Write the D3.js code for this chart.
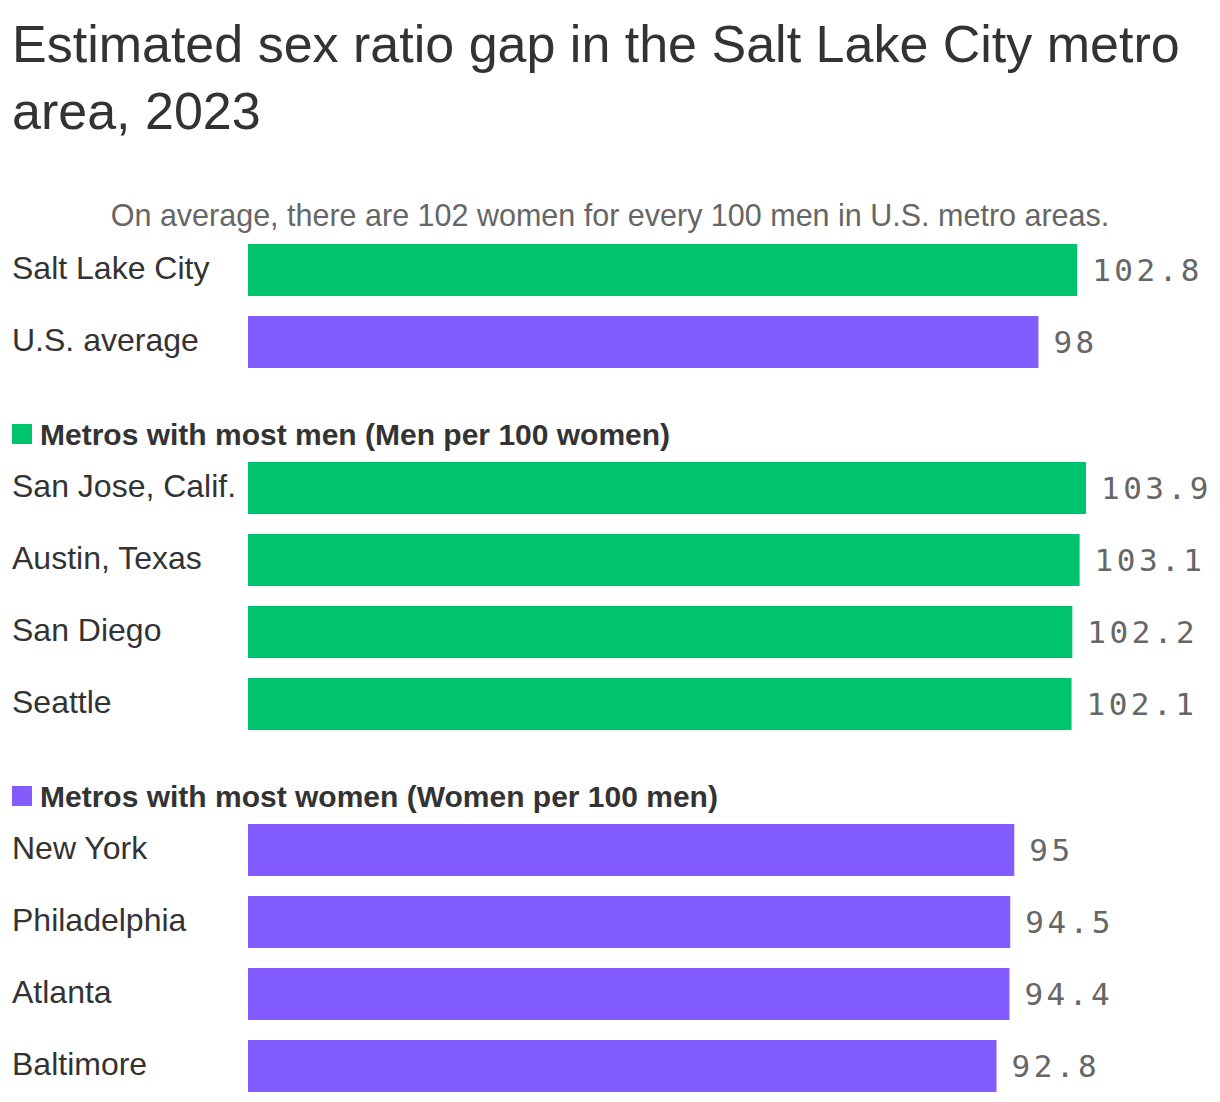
<!DOCTYPE html>
<html lang="en">
<head>
<meta charset="UTF-8">
<title>Sex ratio gap</title>
<script src="https://cdn.jsdelivr.net/npm/d3@7"></script>
<style>
  * { margin: 0; padding: 0; }
  body { background: #fff; }
  text { font-family: "Liberation Sans", Arial, sans-serif; }
  .title { fill: #333; font-size: 52px; }
  .sub { fill: #666; font-size: 30.5px; }
  .label { fill: #333; font-size: 32px; }
  .head { fill: #333; font-size: 30px; font-weight: bold; }
  .val { fill: #666; font-size: 31px; font-family: "DejaVu Sans Mono", monospace; letter-spacing: 3.5px; }
</style>
</head>
<body>
<div id="chart"></div>
<script>
// top comparison
var topNames = ["Salt Lake City", "U.S. average"];
var topValues = [102.8, 98];
// metros with most men
var menNames = ["San Jose, Calif.", "Austin, Texas", "San Diego", "Seattle"];
var menValues = [103.9, 103.1, 102.2, 102.1];
// metros with most women
var womenNames = ["New York", "Philadelphia", "Atlanta", "Baltimore"];
var womenValues = [95, 94.5, 94.4, 92.8];

var GREEN = "#00c36d", PURPLE = "#835cff";

var width = 1220, height = 1102;
var svg = d3.select("#chart").append("svg")
    .attr("width", width).attr("height", height);

svg.append("text").attr("class", "title").attr("x", 12).attr("y", 62)
    .text("Estimated sex ratio gap in the Salt Lake City metro");
svg.append("text").attr("class", "title").attr("x", 12).attr("y", 129)
    .text("area, 2023");

svg.append("text").attr("class", "sub").attr("x", 610).attr("y", 226)
    .attr("text-anchor", "middle")
    .text("On average, there are 102 women for every 100 men in U.S. metro areas.");

var x = d3.scaleLinear().domain([0, 110]).range([248, 248 + 110 * 8.066]);

function group(names, values, colors, top, header, headColor) {
    // fixed 72px step, 52px bars
    var y = d3.scaleBand().domain(names)
        .range([top, top + (names.length - 20 / 72) * 72])
        .paddingInner(20 / 72).paddingOuter(0);

    if (header) {
        svg.append("rect").attr("x", 12).attr("y", top - 38)
            .attr("width", 20).attr("height", 20).attr("fill", headColor);
        svg.append("text").attr("class", "head").attr("x", 40).attr("y", top - 17)
            .text(header);
    }

    var rows = svg.append("g").selectAll("g")
        .data(names.map(function (n, i) { return {name: n, value: values[i], color: colors[i]}; }))
        .enter().append("g");

    rows.append("text").attr("class", "label")
        .attr("x", 12)
        .attr("y", function (d) { return y(d.name) + y.bandwidth() / 2 + 9; })
        .text(function (d) { return d.name; });

    rows.append("rect")
        .attr("x", x(0))
        .attr("y", function (d) { return y(d.name); })
        .attr("width", function (d) { return x(d.value) - x(0); })
        .attr("height", y.bandwidth())
        .attr("fill", function (d) { return d.color; });

    rows.append("text").attr("class", "val")
        .attr("x", function (d) { return x(d.value) + 15; })
        .attr("y", function (d) { return y(d.name) + y.bandwidth() / 2 + 11; })
        .text(function (d) { return d.value; });
}

group(topNames, topValues, [GREEN, PURPLE], 244);
group(menNames, menValues, menNames.map(function () { return GREEN; }), 462,
    "Metros with most men (Men per 100 women)", GREEN);
group(womenNames, womenValues, womenNames.map(function () { return PURPLE; }), 824,
    "Metros with most women (Women per 100 men)", PURPLE);
</script>
</body>
</html>
